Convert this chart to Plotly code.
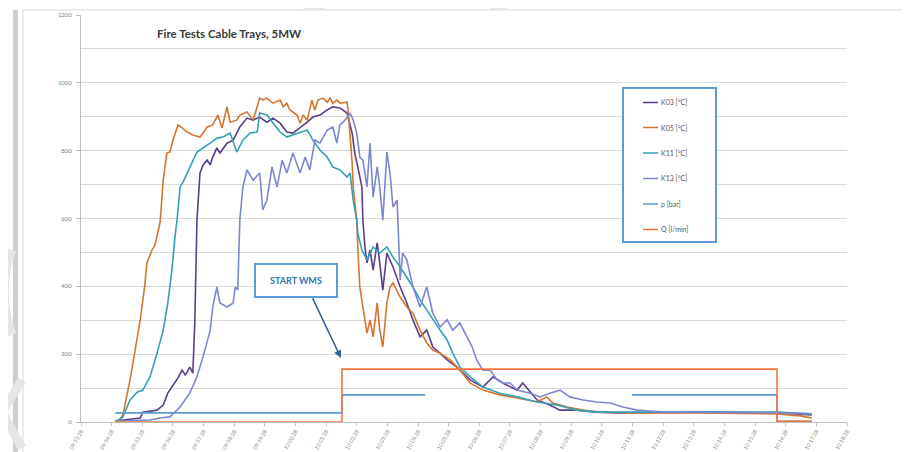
import plotly.graph_objects as go

# ---------------- data (x = seconds since 09:53:28, y = value) ----------------
k03_t = [67, 96, 116, 121, 149, 161, 170, 178, 184, 190, 198, 204, 208, 213, 219, 223, 227, 233, 239, 247,
         253, 258, 266, 272, 286, 298, 311, 325, 337, 350, 364, 376, 390, 403, 415, 429, 443, 454, 468, 482,
         493, 507, 521, 531, 536, 542, 550, 552, 556, 560, 566, 572, 580, 585, 591, 599, 611, 625, 638, 650,
         664, 677, 689, 703, 717, 736, 762, 787, 807, 826, 854, 865, 893, 918, 938, 971, 1010, 1049, 1212,
         1363, 1431]
k03_v = [3, 9, 12, 29, 35, 50, 85, 103, 115, 130, 153, 139, 147, 162, 144, 301, 595, 734, 758, 772,
         758, 781, 808, 793, 822, 831, 870, 896, 890, 899, 884, 896, 881, 855, 852, 867, 884, 899, 905, 920,
         929, 926, 911, 852, 793, 752, 693, 595, 516, 469, 507, 448, 528, 469, 389, 498, 457, 398, 351, 301,
         251, 271, 221, 203, 183, 162, 124, 103, 133, 115, 94, 115, 65, 50, 35, 35, 29, 27, 29,
         27, 21]

k05_t = [67, 76, 82, 90, 96, 106, 116, 125, 129, 139, 145, 155, 161, 168, 174, 180, 190, 198, 208, 219,
         233, 247, 258, 268, 276, 286, 292, 305, 311, 325, 337, 350, 356, 364, 376, 390, 396, 403, 409, 423,
         429, 435, 443, 452, 458, 464, 474, 482, 488, 493, 501, 507, 521, 523, 527, 531, 533, 536, 540, 542,
         546, 552, 560, 566, 572, 580, 585, 591, 599, 605, 611, 625, 638, 650, 664, 677, 689, 703, 723, 742,
         762, 787, 820, 854, 893, 912, 924, 952, 983, 1016, 1075, 1212, 1363, 1409, 1431]
k05_v = [0, 6, 21, 80, 124, 212, 301, 404, 469, 507, 522, 590, 713, 793, 796, 831, 876, 867, 855, 846,
         840, 870, 876, 905, 867, 929, 884, 890, 905, 914, 890, 955, 949, 955, 940, 949, 929, 940, 920, 905,
         881, 905, 890, 949, 920, 949, 955, 943, 955, 940, 949, 940, 943, 920, 852, 764, 693, 654, 595, 516,
         398, 339, 262, 301, 251, 351, 271, 221, 351, 398, 410, 368, 339, 321, 271, 233, 212, 203, 183, 153,
         115, 94, 80, 71, 59, 74, 56, 44, 35, 29, 27, 27, 24, 18, 12]

k11_t = [67, 82, 96, 110, 121, 135, 149, 161, 170, 178, 184, 188, 194, 200, 208, 217, 227, 233, 243, 253,
         266, 278, 292, 305, 317, 331, 345, 350, 364, 376, 390, 403, 415, 429, 443, 454, 468, 482, 493, 507,
         517, 521, 527, 533, 540, 542, 550, 560, 572, 585, 599, 611, 625, 638, 650, 664, 677, 689, 703, 717,
         728, 742, 762, 787, 820, 854, 893, 932, 971, 1010, 1089, 1363, 1431]
k11_v = [0, 15, 65, 88, 94, 133, 203, 271, 351, 448, 545, 595, 693, 708, 734, 764, 796, 802, 811, 822,
         837, 840, 852, 796, 831, 852, 855, 911, 905, 881, 855, 840, 846, 852, 861, 831, 802, 781, 752, 743,
         728, 722, 734, 654, 595, 557, 507, 478, 516, 498, 516, 486, 457, 427, 398, 360, 330, 301, 271, 242,
         203, 162, 133, 103, 85, 74, 59, 50, 35, 29, 29, 29, 24]

k13_t = [67, 135, 155, 174, 194, 213, 227, 239, 253, 258, 266, 272, 286, 298, 302, 307, 311, 317, 325, 337,
         350, 356, 364, 374, 384, 394, 403, 415, 429, 439, 448, 458, 468, 474, 482, 493, 501, 507, 517, 527,
         533, 540, 546, 552, 560, 566, 572, 580, 585, 591, 599, 605, 611, 619, 625, 630, 638, 650, 664, 677,
         689, 703, 717, 728, 742, 752, 766, 775, 787, 801, 815, 826, 840, 854, 879, 899, 918, 938, 957, 983,
         1010, 1036, 1061, 1089, 1140, 1363, 1431]
k13_v = [3, 6, 12, 15, 44, 85, 133, 192, 271, 339, 398, 351, 339, 351, 398, 389, 595, 693, 743, 713,
         734, 625, 654, 752, 693, 772, 734, 793, 734, 781, 743, 831, 822, 840, 861, 870, 822, 876, 890, 911,
         890, 852, 781, 772, 693, 822, 663, 752, 693, 595, 796, 734, 634, 654, 419, 498, 478, 398, 339, 398,
         321, 280, 301, 271, 292, 262, 221, 183, 153, 153, 124, 115, 115, 94, 85, 74, 85, 94, 74, 65,
         59, 56, 44, 35, 29, 27, 24]

p_t = [67, 511, 511, 674, 675, 1079, 1363, 1363, 1431]
p_v = [27, 27, 80, 80, None, 80, 80, 2, 2]

q_t = [67, 511, 511, 1363, 1363, 1431]
q_v = [0, 0, 156, 156, 2, 2]

series_names = ["K03 [°C]", "K05 [°C]", "K11 [°C]", "K13 [°C]", "p [bar]", "Q [l/min]"]
series_colors = ["#5b3d8a", "#d8742e", "#34a0b5", "#7c87cf", "#5b9bd5", "#f2763a"]

tick_seconds = list(range(0, 1501, 60))
tick_labels = ["09:53:28", "09:54:28", "09:55:28", "09:56:28", "09:57:28", "09:58:28", "09:59:28",
               "10:00:28", "10:01:28", "10:02:28", "10:03:28", "10:04:28", "10:05:28", "10:06:28",
               "10:07:28", "10:08:28", "10:09:28", "10:10:28", "10:11:28", "10:12:28", "10:13:28",
               "10:14:28", "10:15:28", "10:16:28", "10:17:28", "10:18:28"]
y_ticks = [0, 200, 400, 600, 800, 1000, 1200]

# ---------------- figure ----------------
OFF = 8                     # page body margin of the html
W, H = 910 - OFF, 452 - OFF
L, R, T, B = 81, 847, 15, 422   # plot area in page pixels


def px(x):
    return (x - L) / (R - L)


def py(y):
    return (B - y) / (B - T)


fig = go.Figure()
all_t = [k03_t, k05_t, k11_t, k13_t, p_t, q_t]
all_v = [k03_v, k05_v, k11_v, k13_v, p_v, q_v]
for i, (name, col) in enumerate(zip(series_names, series_colors)):
    fig.add_trace(go.Scatter(
        x=all_t[i], y=all_v[i], mode="lines", name=name,
        line=dict(color=col, width=1.6), connectgaps=False,
    ))

font = "Lato, 'Open Sans', sans-serif"

fig.update_layout(
    width=W, height=H,
    margin=dict(l=L - OFF, r=910 - R, t=T - OFF, b=452 - B, autoexpand=False),
    paper_bgcolor="white", plot_bgcolor="white",
    font=dict(family=font, size=6, color="#808080"),
    showlegend=False,
    xaxis=dict(
        range=[0, 1500], tickmode="array", tickvals=tick_seconds, ticktext=tick_labels,
        tickangle=-60, showgrid=False, zeroline=False,
        showline=True, linecolor="#bfbfbf", linewidth=1,
        ticks="outside", ticklen=3, tickcolor="#bfbfbf",
        tickfont=dict(size=5.5, color="#8c8c8c"),
    ),
    yaxis=dict(
        range=[0, 1200], tickmode="array", tickvals=y_ticks,
        showgrid=True, gridcolor="#d9d9d9", gridwidth=1, zeroline=False,
        showline=True, linecolor="#bfbfbf", linewidth=1,
        ticks="outside", ticklen=4, tickcolor="#bfbfbf",
        ticklabelstandoff=3,
        tickfont=dict(size=6, color="#808080"),
        minor=dict(dtick=100, tick0=0, showgrid=True, gridcolor="#d9d9d9", gridwidth=1),
    ),
)

shapes = [
    # chart border
    dict(type="rect", xref="paper", yref="paper", x0=px(23), x1=px(905), y0=py(460), y1=py(10),
         line=dict(color="#d9d9d9", width=1), fillcolor="rgba(0,0,0,0)", layer="below"),
    # left gray strip
    dict(type="rect", xref="paper", yref="paper", x0=px(13), x1=px(18), y0=py(460), y1=py(10),
         line=dict(width=0), fillcolor="#c8d1cd", layer="below"),
    # faint watermark pieces
    dict(type="path", xref="paper", yref="paper",
         path=f"M {px(278)} {py(0)} L {px(300)} {py(0)} L {px(330)} {py(10)} L {px(308)} {py(10)} Z",
         line=dict(width=0), fillcolor="#e4e4e4", layer="below"),
    dict(type="path", xref="paper", yref="paper",
         path=f"M {px(500)} {py(0)} L {px(518)} {py(0)} L {px(506)} {py(10)} L {px(488)} {py(10)} Z",
         line=dict(width=0), fillcolor="#e4e4e4", layer="below"),
    dict(type="path", xref="paper", yref="paper",
         path=f"M {px(22)} {py(380)} L {px(2)} {py(412)} L {px(22)} {py(448)}",
         line=dict(width=9, color="#e6e6e6"), layer="below"),
    dict(type="path", xref="paper", yref="paper",
         path=f"M {px(12)} {py(250)} Q {px(-4)} {py(290)} {px(12)} {py(335)}",
         line=dict(width=9, color="#e6e6e6"), layer="below"),
    # legend box
    dict(type="rect", xref="paper", yref="paper", x0=px(623), x1=px(716), y0=py(242), y1=py(88),
         line=dict(color="#5b9bd5", width=2), fillcolor="white", layer="above"),
]

legend_rows = [102.5, 127.5, 153, 178.5, 204, 229.5]
annotations = []
for name, col, yy in zip(series_names, series_colors, legend_rows):
    shapes.append(dict(type="line", xref="paper", yref="paper", x0=px(643), x1=px(658),
                       y0=py(yy), y1=py(yy), line=dict(color=col, width=1.5), layer="above"))
    annotations.append(dict(text=name, xref="paper", yref="paper", x=px(659), y=py(yy),
                            xanchor="left", yanchor="middle", showarrow=False,
                            font=dict(family=font, size=7, color="#595959")))

fig.update_layout(shapes=shapes)

annotations += [
    dict(text="<b>Fire Tests Cable Trays, 5MW</b>", xref="paper", yref="paper",
         x=px(155), y=py(33), xanchor="left", yanchor="middle", showarrow=False,
         font=dict(family=font, size=11.5, color="#3a3a3a")),
    dict(text="<b>START WMS</b>", xref="x", yref="y", x=(296 - L) * 1.958, y=(B - 280) * 2.948,
         showarrow=False, width=78, height=29, borderwidth=2, bordercolor="#5b9bd5",
         bgcolor="white", font=dict(family=font, size=9, color="#2e75b6")),
    dict(text="", xref="x", yref="y", x=509, y=189, ax=-29, ay=-61, axref="pixel", ayref="pixel",
         showarrow=True, arrowhead=2, arrowsize=1, arrowwidth=1.5, arrowcolor="#2e6396"),
]
fig.update_layout(annotations=annotations)

fig.write_html("out.html")
